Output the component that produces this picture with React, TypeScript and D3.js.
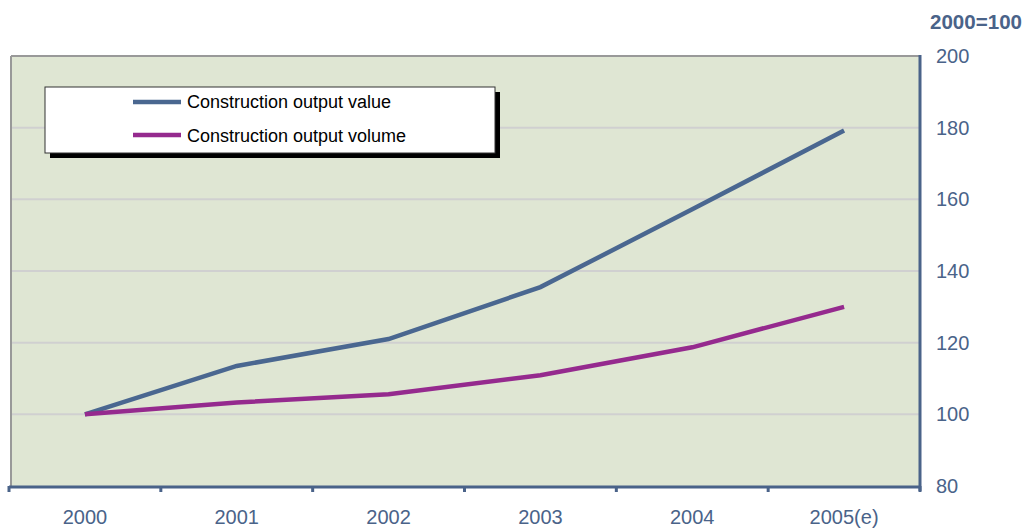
import React from "react";
import * as d3 from "d3";

const categories = ["2000", "2001", "2002", "2003", "2004", "2005(e)"];
const outputValue = [100, 113.5, 121, 135.5, 157.2, 179.2];
const outputVolume = [100, 103.3, 105.6, 110.9, 118.7, 130];
const yTicks = [80, 100, 120, 140, 160, 180, 200];
const seriesNames = ["Construction output value", "Construction output volume"];
const seriesColors = ["#4a6790", "#952a8e"];
const unitLabel = "2000=100";

export default function App() {
  const W = 1026, H = 529;
  const left = 11, right = 920, top = 56, bottom = 486;
  const x = d3.scaleBand<string>().domain(categories).range([left - 2, right]);
  const y = d3.scaleLinear().domain([80, 200]).range([bottom, top]);
  const line = d3
    .line<number>()
    .x((_, i) => (x(categories[i]) as number) + x.bandwidth() / 2)
    .y((d) => y(d));
  const axisColor = "#4a6389";
  const font = "'Liberation Sans', Arial, sans-serif";
  const boundaries = categories.map((c) => x(c) as number).concat([right]);
  return (
    <svg width={W} height={H} style={{ position: "absolute", left: 0, top: 0 }}>
      <rect x={0} y={0} width={W} height={H} fill="#ffffff" />
      <rect x={left} y={top} width={right - left} height={bottom - top} fill="#dfe6d3" />
      {yTicks.slice(1, -1).map((t) => (
        <line key={t} x1={left} x2={right} y1={y(t)} y2={y(t)} stroke="#d0d0d0" strokeWidth={2} />
      ))}
      <line x1={left} x2={left} y1={top} y2={bottom} stroke="#999" strokeWidth={2} />
      <line x1={left} x2={right} y1={top} y2={top} stroke="#999" strokeWidth={2} />
      {[outputValue, outputVolume].map((s, i) => (
        <path key={i} d={line(s) || ""} fill="none" stroke={seriesColors[i]} strokeWidth={4.5} />
      ))}
      <line x1={right} x2={right} y1={top - 1} y2={bottom + 5} stroke={axisColor} strokeWidth={3} />
      <line x1={left - 2} x2={right + 1} y1={bottom + 1} y2={bottom + 1} stroke={axisColor} strokeWidth={3} />
      {boundaries.map((b, i) => (
        <line key={i} x1={b} x2={b} y1={bottom} y2={bottom + 6} stroke={axisColor} strokeWidth={3} />
      ))}
      {yTicks.map((t) => (
        <text key={t} x={936} y={y(t) + 7} fontFamily={font} fontSize={20} fill={axisColor}>
          {t}
        </text>
      ))}
      {categories.map((c) => (
        <text
          key={c}
          x={(x(c) as number) + x.bandwidth() / 2}
          y={524}
          textAnchor="middle"
          fontFamily={font}
          fontSize={20}
          fill={axisColor}
        >
          {c}
        </text>
      ))}
      <text x={1022} y={29} textAnchor="end" fontFamily={font} fontWeight="bold" fontSize={20} fill={axisColor}
        textLength={92} lengthAdjust="spacingAndGlyphs">
        {unitLabel}
      </text>
      <rect x={50} y={92} width={450} height={66} fill="#000" />
      <rect x={45} y={87} width={450} height={66} fill="#fff" stroke="#333" strokeWidth={1} />
      {seriesNames.map((n, i) => (
        <g key={n}>
          <line x1={133} x2={181} y1={102 + i * 33} y2={102 + i * 33} stroke={seriesColors[i]} strokeWidth={4.5} />
          <text x={187} y={108 + i * 34} fontFamily={font} fontSize={18} fill="#000">
            {n}
          </text>
        </g>
      ))}
    </svg>
  );
}
